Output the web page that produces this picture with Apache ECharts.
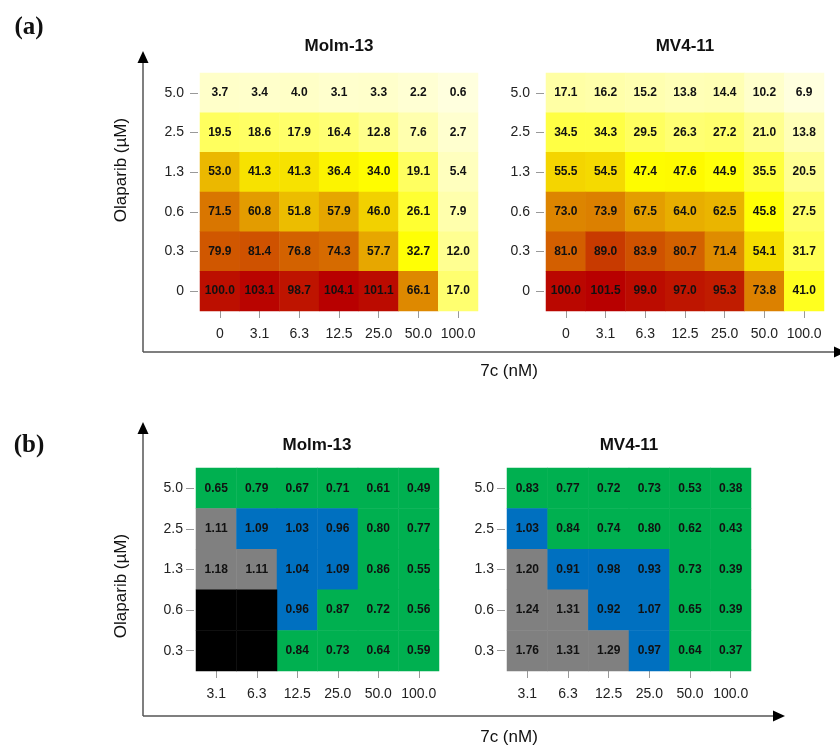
<!DOCTYPE html>
<html>
<head>
<meta charset="utf-8">
<script src="https://cdn.jsdelivr.net/npm/echarts@6/dist/echarts.min.js"></script>
<style>html,body{margin:0;padding:0;background:#fff}#c{width:840px;height:745px}</style>
</head>
<body>
<div id="c"></div>
<script>
// ---- categories ----
const xA = ['0', '3.1', '6.3', '12.5', '25.0', '50.0', '100.0'];
const yA = ['0', '0.3', '0.6', '1.3', '2.5', '5.0'];
const xB = ['3.1', '6.3', '12.5', '25.0', '50.0', '100.0'];
const yB = ['0.3', '0.6', '1.3', '2.5', '5.0'];

// ---- panel (a): viability (%) rows listed top (5.0) to bottom (0) ----
const molmA = [
  [3.7, 3.4, 4.0, 3.1, 3.3, 2.2, 0.6],
  [19.5, 18.6, 17.9, 16.4, 12.8, 7.6, 2.7],
  [53.0, 41.3, 41.3, 36.4, 34.0, 19.1, 5.4],
  [71.5, 60.8, 51.8, 57.9, 46.0, 26.1, 7.9],
  [79.9, 81.4, 76.8, 74.3, 57.7, 32.7, 12.0],
  [100.0, 103.1, 98.7, 104.1, 101.1, 66.1, 17.0]
];
const mvA = [
  [17.1, 16.2, 15.2, 13.8, 14.4, 10.2, 6.9],
  [34.5, 34.3, 29.5, 26.3, 27.2, 21.0, 13.8],
  [55.5, 54.5, 47.4, 47.6, 44.9, 35.5, 20.5],
  [73.0, 73.9, 67.5, 64.0, 62.5, 45.8, 27.5],
  [81.0, 89.0, 83.9, 80.7, 71.4, 54.1, 31.7],
  [100.0, 101.5, 99.0, 97.0, 95.3, 73.8, 41.0]
];

// ---- panel (b): combination index, rows top (5.0) to bottom (0.3); null = not determined ----
const molmB = [
  [0.65, 0.79, 0.67, 0.71, 0.61, 0.49],
  [1.11, 1.09, 1.03, 0.96, 0.80, 0.77],
  [1.18, 1.11, 1.04, 1.09, 0.86, 0.55],
  [null, null, 0.96, 0.87, 0.72, 0.56],
  [null, null, 0.84, 0.73, 0.64, 0.59]
];
const mvB = [
  [0.83, 0.77, 0.72, 0.73, 0.53, 0.38],
  [1.03, 0.84, 0.74, 0.80, 0.62, 0.43],
  [1.20, 0.91, 0.98, 0.93, 0.73, 0.39],
  [1.24, 1.31, 0.92, 1.07, 0.65, 0.39],
  [1.76, 1.31, 1.29, 0.97, 0.64, 0.37]
];

// ---- helpers ----
function toData(m, yc) {
  const out = [];
  m.forEach((row, r) => row.forEach((v, c) => { if (v !== null) out.push([c, yc.length - 1 - r, v]); }));
  return out;
}
function naData(m, yc) {
  const out = [];
  m.forEach((row, r) => row.forEach((v, c) => { if (v === null) out.push([c, yc.length - 1 - r, 0]); }));
  return out;
}
const LOW = [255, 255, 222], MID = [255, 255, 0], HIGH = [184, 0, 0];
function mix(a, b, t) {
  return 'rgb(' + a.map((x, i) => Math.round(x + (b[i] - x) * t)).join(',') + ')';
}
// 3-colour scale: min -> light yellow, median -> yellow, max -> dark red
function scale(m) {
  const s = m.flat().slice().sort((a, b) => a - b);
  const n = s.length;
  const med = n % 2 ? s[(n - 1) / 2] : (s[n / 2 - 1] + s[n / 2]) / 2;
  const mn = s[0], mx = s[n - 1];
  const N = 240, colors = [];
  for (let i = 0; i <= N; i++) {
    const v = mn + (mx - mn) * i / N;
    colors.push(v <= med ? mix(LOW, MID, (v - mn) / (med - mn)) : mix(MID, HIGH, (v - med) / (mx - med)));
  }
  return { min: mn, max: mx, colors };
}
const sMolm = scale(molmA), sMv = scale(mvA);

const FONT = '"Liberation Sans", Arial, sans-serif';
const grids = [
  { left: 200, top: 73, width: 278, height: 238 },
  { left: 546, top: 73, width: 278, height: 238 },
  { left: 196, top: 468, width: 243, height: 203 },
  { left: 507, top: 468, width: 244, height: 203 }
];
function xAx(i, cats) {
  return {
    type: 'category', gridIndex: i, data: cats, position: 'bottom',
    axisLine: { show: false },
    axisTick: { show: true, alignWithLabel: true, interval: 0, length: 7, lineStyle: { color: '#999', width: 1 } },
    axisLabel: { color: '#222', fontSize: 14, fontFamily: FONT, margin: 16, interval: 0 },
    splitLine: { show: false }
  };
}
function yAx(i, cats, margin) {
  return {
    type: 'category', gridIndex: i, data: cats, offset: 2,
    axisLine: { show: false },
    axisTick: { show: true, alignWithLabel: true, interval: 0, length: 8, lineStyle: { color: '#999', width: 1 } },
    axisLabel: { color: '#222', fontSize: 14, fontFamily: FONT, margin: margin, interval: 0 },
    splitLine: { show: false }
  };
}
function hm(i, data, dec) {
  return {
    type: 'heatmap', xAxisIndex: i, yAxisIndex: i, data: data,
    itemStyle: { borderWidth: 0 },
    label: {
      show: true, color: '#111', fontSize: 12, fontWeight: 'bold', fontFamily: FONT,
      textBorderWidth: 0, textBorderColor: 'transparent', textShadowBlur: 0,
      formatter: p => p.value[2].toFixed(dec)
    },
    emphasis: { disabled: true }
  };
}

const AX = '#555';
function arrowUp(x, tipY) { return { type: 'polygon', shape: { points: [[x, tipY], [x - 5.5, tipY + 12], [x + 5.5, tipY + 12]] }, style: { fill: '#000' } }; }
function arrowRight(tipX, y) { return { type: 'polygon', shape: { points: [[tipX, y], [tipX - 12, y - 5.5], [tipX - 12, y + 5.5]] }, style: { fill: '#000' } }; }
function txt(x, y, text, size, weight, family, rot) {
  return {
    type: 'text', x: x, y: y, rotation: rot || 0,
    style: { text: text, fontSize: size, fontWeight: weight, fontFamily: family, fill: '#111', align: 'center', verticalAlign: 'middle' }
  };
}

const option = {
  animation: false,
  backgroundColor: '#fff',
  grid: grids,
  xAxis: [xAx(0, xA), xAx(1, xA), xAx(2, xB), xAx(3, xB)],
  yAxis: [yAx(0, yA, 14), yAx(1, yA, 14), yAx(2, yB, 11), yAx(3, yB, 11)],
  visualMap: [
    { type: 'continuous', show: false, seriesIndex: 0, dimension: 2, min: sMolm.min, max: sMolm.max, inRange: { color: sMolm.colors } },
    { type: 'continuous', show: false, seriesIndex: 1, dimension: 2, min: sMv.min, max: sMv.max, inRange: { color: sMv.colors } },
    {
      type: 'piecewise', show: false, seriesIndex: [2, 3], dimension: 2,
      pieces: [
        { lt: 0.9, color: '#00B050' },
        { gte: 0.9, lte: 1.1, color: '#0070C0' },
        { gt: 1.1, color: '#808080' }
      ]
    }
  ],
  series: [
    hm(0, toData(molmA, yA), 1),
    hm(1, toData(mvA, yA), 1),
    hm(2, toData(molmB, yB), 2),
    hm(3, toData(mvB, yB), 2),
    {
      type: 'heatmap', xAxisIndex: 2, yAxisIndex: 2, data: naData(molmB, yB),
      itemStyle: { color: '#000', borderWidth: 0 }, label: { show: false }, emphasis: { disabled: true }
    }
  ],
  graphic: [
    // panel (a) axes
    { type: 'line', shape: { x1: 143, y1: 60, x2: 143, y2: 352 }, style: { stroke: AX, lineWidth: 1.5 } },
    { type: 'line', shape: { x1: 143, y1: 352, x2: 836, y2: 352 }, style: { stroke: AX, lineWidth: 1.5 } },
    arrowUp(143, 51),
    arrowRight(846, 352),
    // panel (b) axes
    { type: 'line', shape: { x1: 143, y1: 431, x2: 143, y2: 716 }, style: { stroke: AX, lineWidth: 1.5 } },
    { type: 'line', shape: { x1: 143, y1: 716, x2: 776, y2: 716 }, style: { stroke: AX, lineWidth: 1.5 } },
    arrowUp(143, 422),
    arrowRight(785, 716),
    // titles
    txt(339, 46, 'Molm-13', 17, 'bold', FONT),
    txt(685, 46, 'MV4-11', 17, 'bold', FONT),
    txt(317, 445, 'Molm-13', 17, 'bold', FONT),
    txt(629, 445, 'MV4-11', 17, 'bold', FONT),
    // axis titles
    txt(509, 371, '7c (nM)', 17, 'normal', FONT),
    txt(509, 737, '7c (nM)', 17, 'normal', FONT),
    txt(121, 170, 'Olaparib (µM)', 17, 'normal', FONT, Math.PI / 2),
    txt(121, 586, 'Olaparib (µM)', 17, 'normal', FONT, Math.PI / 2),
    // panel letters
    txt(29, 28, '(a)', 25, 'bold', '"Liberation Serif", "DejaVu Serif", serif'),
    txt(29, 446, '(b)', 25, 'bold', '"Liberation Serif", "DejaVu Serif", serif')
  ]
};
const chart = echarts.init(document.getElementById('c'), null, { renderer: 'canvas' });
chart.setOption(option);
</script>
</body>
</html>
